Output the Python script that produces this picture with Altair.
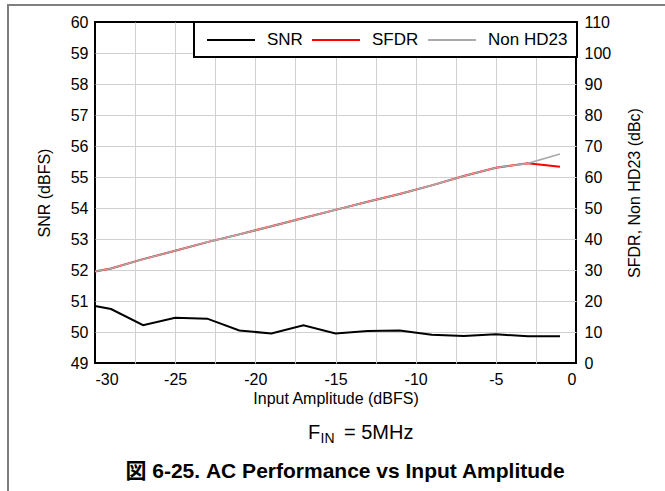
import altair as alt
import pandas as pd

# ---------------- data ----------------
x_dbfs = [-30, -29, -27, -25, -23, -21, -19, -17, -15, -13, -11, -9, -7, -5, -3, -1]
snr = [50.84, 50.74, 50.22, 50.46, 50.43, 50.05, 49.95, 50.22, 49.95, 50.03, 50.05,
       49.91, 49.87, 49.93, 49.86, 49.86]
sfdr = [29.5, 30.5, 33.5, 36.2, 39.0, 41.5, 44.1, 46.8, 49.4, 52.0, 54.5, 57.3, 60.3,
        63.0, 64.4, 63.3]
non_hd23 = [29.5, 30.5, 33.5, 36.2, 39.0, 41.5, 44.1, 46.8, 49.4, 52.0, 54.5, 57.3, 60.3,
            63.0, 64.4, 67.4]

series_names = ["SNR", "SFDR", "Non HD23"]
series_colors = ["#000000", "#ff0000", "#aaaaaa"]

x_ticks = [-30 + 2.5 * i for i in range(13)]
y_left_ticks = [49 + 0.5 * i for i in range(23)]
y_right_ticks = [10 * i for i in range(12)]

x_title = "Input Amplitude (dBFS)"
y_left_title = "SNR (dBFS)"
y_right_title = "SFDR, Non HD23 (dBc)"
fin_main = "F"
fin_sub = "IN"
fin_rest = "= 5MHz"
fig_title = "図 6-25. AC Performance vs Input Amplitude"

FONT = "Liberation Sans, Arial, Noto Sans CJK JP, sans-serif"

df = pd.DataFrame({
    "x": x_dbfs * 3,
    "value": snr + sfdr + non_hd23,
    "series": ["SNR"] * len(x_dbfs) + ["SFDR"] * len(x_dbfs) + ["Non HD23"] * len(x_dbfs),
})

x_scale = alt.Scale(domain=[-30, 0], nice=False, zero=False)
x_axis = alt.Axis(
    values=x_ticks,
    labelExpr="datum.value % 5 == 0 ? '' + datum.value : ''",
    title=x_title,
    grid=True,
    gridOpacity={"condition": {"test": "datum.value == -30 || datum.value == 0", "value": 0}, "value": 1},
    labelPadding=8,
    titleX=240.5,
    titleY=35,
    titleBaseline="middle",
    titleAlign="center",
)
x_enc = alt.X("x:Q", scale=x_scale, axis=x_axis)

color = alt.Color(
    "series:N",
    scale=alt.Scale(domain=series_names, range=series_colors),
    sort=series_names,
    legend=alt.Legend(
        orient="none",
        legendX=99,
        legendY=0,
        direction="horizontal",
        title=None,
        strokeColor="black",
        fillColor="white",
        padding=9,
        symbolType="M-3,0H3",
        symbolSize=256,
        symbolStrokeWidth=2,
        symbolOffset=19,
        labelFont=FONT,
        labelFontSize=17,
        labelColor="black",
        labelOffset=27,
        columnPadding=5,
    ),
)

snr_line = alt.Chart(df).transform_filter("datum.series == 'SNR'").mark_line(strokeWidth=2).encode(
    x=x_enc,
    y=alt.Y(
        "value:Q",
        scale=alt.Scale(domain=[49, 60], nice=False, zero=False),
        axis=alt.Axis(
            values=y_left_ticks,
            format="d",
            labelExpr="datum.value % 1 == 0 ? datum.label : ''",
            title=y_left_title,
            grid=True,
            gridOpacity={"condition": {"test": "datum.value == 49 || datum.value == 60", "value": 0}, "value": 1},
            labelPadding=7,
            titleX=-51,
            titleY=170.5,
            titleAngle=270,
            titleBaseline="middle",
            titleAlign="center",
        ),
    ),
    color=color,
)

right_y = alt.Y(
    "value:Q",
    scale=alt.Scale(domain=[0, 110], nice=False, zero=False),
    axis=alt.Axis(
        orient="right",
        values=y_right_ticks,
        title=y_right_title,
        grid=False,
        labelPadding=8,
        titleX=58,
        titleY=170.5,
        titleAngle=270,
        titleBaseline="middle",
        titleAlign="center",
    ),
)

sfdr_line = alt.Chart(df).transform_filter("datum.series == 'SFDR'").mark_line(strokeWidth=2).encode(
    x=x_enc,
    y=right_y,
    color=color,
)
hd_line = alt.Chart(df).transform_filter("datum.series == 'Non HD23'").mark_line(strokeWidth=1.6).encode(
    x=x_enc,
    y=right_y,
    color=color,
)
right_layer = alt.layer(sfdr_line, hd_line)

one = pd.DataFrame({"k": [0]})
border_left = alt.Chart(one).mark_rule(color="#7f7f7f", strokeWidth=2).encode(
    x=alt.value(-87), y=alt.value(-17), y2=alt.value(480)
)
border_top = alt.Chart(one).mark_rule(color="#7f7f7f", strokeWidth=2).encode(
    x=alt.value(-88), x2=alt.value(580), y=alt.value(-17)
)

t_title = alt.Chart(pd.DataFrame({"t": [fig_title]})).mark_text(
    font=FONT, fontSize=21, fontWeight="bold", align="center", baseline="alphabetic", color="black"
).encode(x=alt.value(250), y=alt.value(456), text="t:N")
t_f = alt.Chart(pd.DataFrame({"t": [fin_main]})).mark_text(
    font=FONT, fontSize=20, align="left", baseline="alphabetic", color="black"
).encode(x=alt.value(213), y=alt.value(417), text="t:N")
t_sub = alt.Chart(pd.DataFrame({"t": [fin_sub]})).mark_text(
    font=FONT, fontSize=14, align="left", baseline="alphabetic", color="black"
).encode(x=alt.value(225.5), y=alt.value(421), text="t:N")
t_rest = alt.Chart(pd.DataFrame({"t": [fin_rest]})).mark_text(
    font=FONT, fontSize=20, align="left", baseline="alphabetic", color="black"
).encode(x=alt.value(249), y=alt.value(417), text="t:N")

chart = alt.layer(
    snr_line, right_layer, border_left, border_top, t_title, t_f, t_sub, t_rest
).resolve_scale(y="independent").properties(
    width=481,
    height=341,
    padding={"left": 95, "top": 22, "right": 89, "bottom": 128},
    autosize=alt.AutoSizeParams(type="none"),
    background="white",
).configure_view(
    stroke="black", strokeWidth=2, fill="white"
).configure_axis(
    labelFont=FONT,
    labelFontSize=16,
    labelColor="black",
    titleFont=FONT,
    titleFontSize=16,
    titleFontWeight="normal",
    titleColor="black",
    domain=False,
    ticks=False,
    gridColor="#d0d0d0",
    gridWidth=1,
).configure_legend(
    strokeWidth=2,
    cornerRadius=0,
)

chart.save("out.html", embed_options={"renderer": "svg", "actions": False})
